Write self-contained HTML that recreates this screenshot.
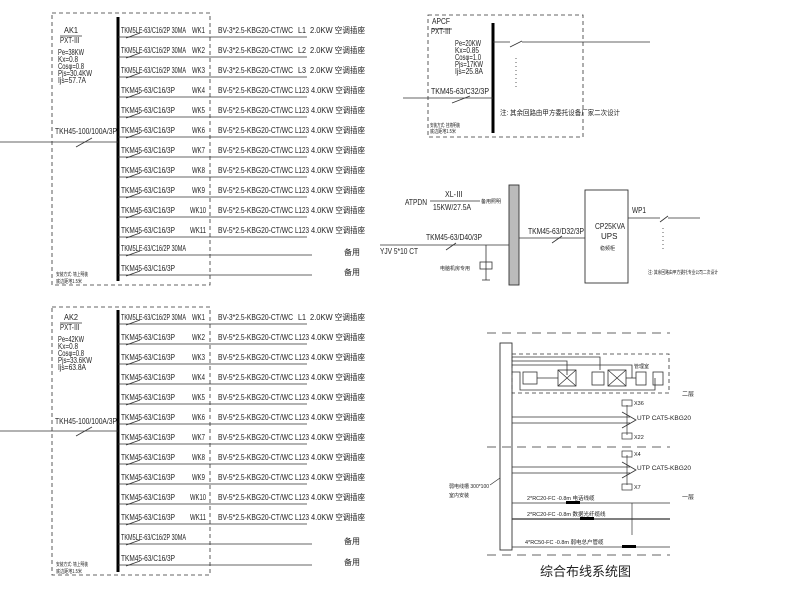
<!DOCTYPE html>
<html><head><meta charset="utf-8"><style>
html,body{margin:0;padding:0;background:#fff;width:800px;height:600px;overflow:hidden}
svg{display:block}
text{font-family:"Liberation Sans","Noto Sans CJK SC",sans-serif;fill:#222}
</style></head><body>
<svg width="800" height="600" viewBox="0 0 800 600" xmlns="http://www.w3.org/2000/svg">
<defs>
<g id="sw"><line x1="126" y1="5" x2="140" y2="0" stroke="#333" stroke-width="0.8"/></g>
</defs>
<g stroke="#333" fill="none">
<rect x="52" y="13" width="158" height="272" stroke-dasharray="4,3" stroke-width="0.8"/>
<line x1="118" y1="17" x2="118" y2="281" stroke="#000" stroke-width="3"/>
<line x1="0" y1="142" x2="118" y2="142" stroke-width="0.8"/>
<line x1="76" y1="147" x2="92" y2="138" stroke-width="0.8"/>
<line x1="60" y1="36" x2="82" y2="36" stroke-width="0.7"/>
<rect x="52" y="307" width="158" height="268" stroke-dasharray="4,3" stroke-width="0.8"/>
<line x1="118" y1="310" x2="118" y2="572" stroke="#000" stroke-width="3"/>
<line x1="0" y1="431" x2="118" y2="431" stroke-width="0.8"/>
<line x1="76" y1="436" x2="92" y2="427" stroke-width="0.8"/>
<line x1="60" y1="323" x2="82" y2="323" stroke-width="0.7"/>
<rect x="428" y="15" width="155" height="122" stroke-dasharray="4,3" stroke-width="0.8"/>
<line x1="493" y1="23" x2="493" y2="133" stroke="#000" stroke-width="3"/>
<line x1="493" y1="42" x2="510" y2="42" stroke-width="0.8"/>
<line x1="510" y1="47" x2="522" y2="41" stroke-width="0.8"/>
<line x1="522" y1="42" x2="650" y2="42" stroke-width="0.8"/>
<line x1="403" y1="98" x2="493" y2="98" stroke-width="0.8"/>
<line x1="452" y1="103" x2="470" y2="96" stroke-width="0.8"/>
<line x1="432" y1="29" x2="452" y2="29" stroke-width="0.7"/>
<line x1="516" y1="58" x2="516" y2="90" stroke-dasharray="1,3" stroke-width="0.8"/>
<line x1="430" y1="201" x2="480" y2="201" stroke-width="0.8"/>
<line x1="380" y1="245" x2="509" y2="245" stroke-width="0.8"/>
<line x1="446" y1="250" x2="456" y2="243" stroke-width="0.8"/>
<line x1="486" y1="245" x2="486" y2="280" stroke-width="0.8"/>
<rect x="480" y="262" width="12" height="7" stroke-width="0.8"/>
<line x1="482" y1="280" x2="490" y2="280" stroke-width="0.8"/>
<rect x="509" y="185" width="10" height="100" fill="#bbb" stroke-width="0.9"/>
<line x1="519" y1="238" x2="585" y2="238" stroke-width="0.8"/>
<line x1="552" y1="243" x2="562" y2="236" stroke-width="0.8"/>
<rect x="585" y="190" width="43" height="93" stroke-width="0.9"/>
<line x1="628" y1="218" x2="660" y2="218" stroke-width="0.8"/>
<line x1="660" y1="222" x2="668" y2="216" stroke-width="0.8"/>
<line x1="668" y1="218" x2="700" y2="218" stroke-width="0.8"/>
<line x1="663" y1="228" x2="663" y2="252" stroke-dasharray="1,3" stroke-width="0.8"/>
<g stroke-dasharray="9,6" stroke-width="0.8">
<line x1="487" y1="333" x2="670" y2="333"/><line x1="487" y1="447" x2="670" y2="447"/><line x1="487" y1="555" x2="670" y2="555"/>
</g>
<rect x="500" y="343" width="12" height="207" stroke-width="0.9"/>
<rect x="512" y="354" width="157" height="39" stroke-dasharray="4,3" stroke-width="0.8"/>
<path d="M512 357H600V370 M512 361H567V375 M512 365H632V378 M512 372H520V390H655V378" stroke-width="0.8"/>
<rect x="523" y="372" width="14" height="12" stroke-width="0.8"/>
<rect x="558" y="370" width="18" height="16" stroke-width="0.8"/>
<path d="M558 370L576 386M576 370L558 386" stroke-width="0.7"/>
<line x1="537" y1="378" x2="558" y2="378" stroke-width="0.8"/>
<rect x="592" y="372" width="12" height="13" stroke-width="0.8"/>
<rect x="608" y="370" width="18" height="16" stroke-width="0.8"/>
<path d="M608 370L626 386M626 370L608 386" stroke-width="0.7"/>
<line x1="626" y1="378" x2="636" y2="378" stroke-width="0.8"/>
<rect x="636" y="372" width="10" height="13" stroke-width="0.8"/>
<rect x="653" y="372" width="10" height="13" stroke-width="0.8"/>
<line x1="512" y1="417" x2="630" y2="417" stroke-width="0.8"/>
<line x1="512" y1="423" x2="630" y2="423" stroke-width="0.8"/>
<path d="M622 412L636 420L622 428" stroke-width="0.8"/>
<line x1="627" y1="405" x2="627" y2="435" stroke-width="0.7"/>
<rect x="622" y="400" width="10" height="6" stroke-width="0.7"/><rect x="622" y="433" width="10" height="6" stroke-width="0.7"/>
<line x1="512" y1="467" x2="630" y2="467" stroke-width="0.8"/>
<line x1="512" y1="473" x2="630" y2="473" stroke-width="0.8"/>
<path d="M622 462L636 470L622 478" stroke-width="0.8"/>
<line x1="627" y1="455" x2="627" y2="485" stroke-width="0.7"/>
<rect x="622" y="451" width="10" height="6" stroke-width="0.7"/><rect x="622" y="484" width="10" height="6" stroke-width="0.7"/>
<line x1="512" y1="503" x2="670" y2="503" stroke-width="0.8"/>
<line x1="512" y1="519" x2="670" y2="519" stroke-width="1.3"/>
<line x1="512" y1="547" x2="670" y2="547" stroke-width="0.8"/>
<line x1="632" y1="503" x2="632" y2="535" stroke-width="0.7"/>
<line x1="490" y1="485" x2="500" y2="478" stroke-width="0.7"/>
</g>
<g fill="#000"><rect x="566" y="501" width="14" height="3"/><rect x="580" y="517" width="14" height="3"/><rect x="622" y="545" width="14" height="3"/></g>

<g font-size="8" lengthAdjust="spacingAndGlyphs">
<text x="64" y="33" textLength="14" lengthAdjust="spacingAndGlyphs">AK1</text><text x="60" y="43" textLength="20" lengthAdjust="spacingAndGlyphs">PXT-Ⅲ</text>
<text x="58" y="55" textLength="26" lengthAdjust="spacingAndGlyphs">Pe=38KW</text><text x="58" y="62" textLength="20" lengthAdjust="spacingAndGlyphs">Kx=0.8</text><text x="58" y="69" textLength="26" lengthAdjust="spacingAndGlyphs">Cosφ=0.8</text><text x="58" y="76" textLength="34" lengthAdjust="spacingAndGlyphs">Pjs=30.4KW</text><text x="58" y="83" textLength="28" lengthAdjust="spacingAndGlyphs">Ijs=57.7A</text>
<text x="55" y="134" textLength="62" lengthAdjust="spacingAndGlyphs">TKH45-100/100A/3P</text>
<text x="56" y="276" font-size="5" textLength="32" lengthAdjust="spacingAndGlyphs">安装方式: 墙上明装</text><text x="56" y="283" font-size="5" textLength="26" lengthAdjust="spacingAndGlyphs">底边距地1.5米</text>

<text x="64" y="320" textLength="14" lengthAdjust="spacingAndGlyphs">AK2</text><text x="60" y="330" textLength="20" lengthAdjust="spacingAndGlyphs">PXT-Ⅲ</text>
<text x="58" y="342" textLength="26" lengthAdjust="spacingAndGlyphs">Pe=42KW</text><text x="58" y="349" textLength="20" lengthAdjust="spacingAndGlyphs">Kx=0.8</text><text x="58" y="356" textLength="26" lengthAdjust="spacingAndGlyphs">Cosφ=0.8</text><text x="58" y="363" textLength="34" lengthAdjust="spacingAndGlyphs">Pjs=33.6KW</text><text x="58" y="370" textLength="28" lengthAdjust="spacingAndGlyphs">Ijs=63.8A</text>
<text x="55" y="424" textLength="62" lengthAdjust="spacingAndGlyphs">TKH45-100/100A/3P</text>
<text x="56" y="566" font-size="5" textLength="32" lengthAdjust="spacingAndGlyphs">安装方式: 墙上明装</text><text x="56" y="573" font-size="5" textLength="26" lengthAdjust="spacingAndGlyphs">底边距地1.5米</text>

<text x="432" y="24" textLength="18" lengthAdjust="spacingAndGlyphs">APCF</text><text x="431" y="34" textLength="20" lengthAdjust="spacingAndGlyphs">PXT-Ⅲ</text>
<text x="455" y="46" textLength="26" lengthAdjust="spacingAndGlyphs">Pe=20KW</text><text x="455" y="53" textLength="24" lengthAdjust="spacingAndGlyphs">Kx=0.85</text><text x="455" y="60" textLength="26" lengthAdjust="spacingAndGlyphs">Cosφ=1.0</text><text x="455" y="67" textLength="28" lengthAdjust="spacingAndGlyphs">Pjs=17KW</text><text x="455" y="74" textLength="28" lengthAdjust="spacingAndGlyphs">Ijs=25.8A</text>
<text x="431" y="94" textLength="58" lengthAdjust="spacingAndGlyphs">TKM45-63/C32/3P</text>
<text x="500" y="115" font-size="7" textLength="120" lengthAdjust="spacingAndGlyphs">注: 其余回路由甲方委托设备厂家二次设计</text>
<text x="430" y="127" font-size="5" textLength="30" lengthAdjust="spacingAndGlyphs">安装方式: 挂墙明装</text><text x="430" y="133" font-size="5" textLength="26" lengthAdjust="spacingAndGlyphs">底边距地1.5米</text>

<text x="405" y="205" textLength="22" lengthAdjust="spacingAndGlyphs">ATPDN</text><text x="445" y="197" textLength="18" lengthAdjust="spacingAndGlyphs">XL-Ⅲ</text><text x="433" y="210" textLength="38" lengthAdjust="spacingAndGlyphs">15KW/27.5A</text>
<text x="481" y="203" font-size="5">备用照明</text>
<text x="426" y="240" textLength="56" lengthAdjust="spacingAndGlyphs">TKM45-63/D40/3P</text>
<text x="380" y="254" textLength="38" lengthAdjust="spacingAndGlyphs">YJV 5*10 CT</text>
<text x="440" y="270" font-size="5">电脑机房专用</text>
<text x="528" y="234" textLength="56" lengthAdjust="spacingAndGlyphs">TKM45-63/D32/3P</text>
<text x="595" y="229" textLength="30" lengthAdjust="spacingAndGlyphs">CP25KVA</text><text x="601" y="239">UPS</text><text x="600" y="250" font-size="5">稳频柜</text>
<text x="632" y="213" textLength="14" lengthAdjust="spacingAndGlyphs">WP1</text>
<text x="648" y="274" font-size="5" textLength="70" lengthAdjust="spacingAndGlyphs">注: 其余回路由甲方委托专业公司二次设计</text>

<text x="634" y="368" font-size="5">管理室</text>
<text x="682" y="396" font-size="6">二层</text><text x="682" y="499" font-size="6">一层</text>
<text x="634" y="405" font-size="5.5">X36</text><text x="637" y="420" font-size="6.5" textLength="54" lengthAdjust="spacingAndGlyphs">UTP CAT5-KBG20</text><text x="634" y="439" font-size="5.5">X22</text>
<text x="634" y="456" font-size="5.5">X4</text><text x="637" y="470" font-size="6.5" textLength="54" lengthAdjust="spacingAndGlyphs">UTP CAT5-KBG20</text><text x="634" y="489" font-size="5.5">X7</text>
<text x="527" y="500" font-size="5.5">2*RC20-FC -0.8m 电话线缆</text>
<text x="527" y="516" font-size="5.5">2*RC20-FC -0.8m 数据光纤缆线</text>
<text x="525" y="544" font-size="5.5">4*RC50-FC -0.8m 弱电总户管缆</text>
<text x="449" y="488" font-size="5">弱电线槽 300*100</text><text x="449" y="497" font-size="5">室内安装</text>
<text x="540" y="576" font-size="13" fill="#444">综合布线系统图</text>
</g>

<!-- AK1 rows -->
<g font-size="8" stroke-width="0.8">
<g transform="translate(0,33)"><line x1="118" y1="4" x2="307" y2="4" stroke="#333"/><use href="#sw"/><text x="121" y="0" textLength="65" lengthAdjust="spacingAndGlyphs">TKM5LE-63/C16/2P 30MA</text><text x="192" y="0" textLength="13" lengthAdjust="spacingAndGlyphs">WK1</text><text x="218" y="0" textLength="75" lengthAdjust="spacingAndGlyphs">BV-3*2.5-KBG20-CT/WC</text><text x="298" y="0" textLength="8" lengthAdjust="spacingAndGlyphs">L1</text><text x="310" y="0" textLength="55" lengthAdjust="spacingAndGlyphs">2.0KW 空调插座</text></g>
<g transform="translate(0,53)"><line x1="118" y1="4" x2="307" y2="4" stroke="#333"/><use href="#sw"/><text x="121" y="0" textLength="65" lengthAdjust="spacingAndGlyphs">TKM5LE-63/C16/2P 30MA</text><text x="192" y="0" textLength="13" lengthAdjust="spacingAndGlyphs">WK2</text><text x="218" y="0" textLength="75" lengthAdjust="spacingAndGlyphs">BV-3*2.5-KBG20-CT/WC</text><text x="298" y="0" textLength="8" lengthAdjust="spacingAndGlyphs">L2</text><text x="310" y="0" textLength="55" lengthAdjust="spacingAndGlyphs">2.0KW 空调插座</text></g>
<g transform="translate(0,73)"><line x1="118" y1="4" x2="307" y2="4" stroke="#333"/><use href="#sw"/><text x="121" y="0" textLength="65" lengthAdjust="spacingAndGlyphs">TKM5LE-63/C16/2P 30MA</text><text x="192" y="0" textLength="13" lengthAdjust="spacingAndGlyphs">WK3</text><text x="218" y="0" textLength="75" lengthAdjust="spacingAndGlyphs">BV-3*2.5-KBG20-CT/WC</text><text x="298" y="0" textLength="8" lengthAdjust="spacingAndGlyphs">L3</text><text x="310" y="0" textLength="55" lengthAdjust="spacingAndGlyphs">2.0KW 空调插座</text></g>
<g transform="translate(0,93)"><line x1="118" y1="4" x2="307" y2="4" stroke="#333"/><use href="#sw"/><text x="121" y="0" textLength="54" lengthAdjust="spacingAndGlyphs">TKM45-63/C16/3P</text><text x="192" y="0" textLength="13" lengthAdjust="spacingAndGlyphs">WK4</text><text x="218" y="0" textLength="75" lengthAdjust="spacingAndGlyphs">BV-5*2.5-KBG20-CT/WC</text><text x="295" y="0" textLength="14" lengthAdjust="spacingAndGlyphs">L123</text><text x="311" y="0" textLength="54" lengthAdjust="spacingAndGlyphs">4.0KW 空调插座</text></g>
<g transform="translate(0,113)"><line x1="118" y1="4" x2="307" y2="4" stroke="#333"/><use href="#sw"/><text x="121" y="0" textLength="54" lengthAdjust="spacingAndGlyphs">TKM45-63/C16/3P</text><text x="192" y="0" textLength="13" lengthAdjust="spacingAndGlyphs">WK5</text><text x="218" y="0" textLength="75" lengthAdjust="spacingAndGlyphs">BV-5*2.5-KBG20-CT/WC</text><text x="295" y="0" textLength="14" lengthAdjust="spacingAndGlyphs">L123</text><text x="311" y="0" textLength="54" lengthAdjust="spacingAndGlyphs">4.0KW 空调插座</text></g>
<g transform="translate(0,133)"><line x1="118" y1="4" x2="307" y2="4" stroke="#333"/><use href="#sw"/><text x="121" y="0" textLength="54" lengthAdjust="spacingAndGlyphs">TKM45-63/C16/3P</text><text x="192" y="0" textLength="13" lengthAdjust="spacingAndGlyphs">WK6</text><text x="218" y="0" textLength="75" lengthAdjust="spacingAndGlyphs">BV-5*2.5-KBG20-CT/WC</text><text x="295" y="0" textLength="14" lengthAdjust="spacingAndGlyphs">L123</text><text x="311" y="0" textLength="54" lengthAdjust="spacingAndGlyphs">4.0KW 空调插座</text></g>
<g transform="translate(0,153)"><line x1="118" y1="4" x2="307" y2="4" stroke="#333"/><use href="#sw"/><text x="121" y="0" textLength="54" lengthAdjust="spacingAndGlyphs">TKM45-63/C16/3P</text><text x="192" y="0" textLength="13" lengthAdjust="spacingAndGlyphs">WK7</text><text x="218" y="0" textLength="75" lengthAdjust="spacingAndGlyphs">BV-5*2.5-KBG20-CT/WC</text><text x="295" y="0" textLength="14" lengthAdjust="spacingAndGlyphs">L123</text><text x="311" y="0" textLength="54" lengthAdjust="spacingAndGlyphs">4.0KW 空调插座</text></g>
<g transform="translate(0,173)"><line x1="118" y1="4" x2="307" y2="4" stroke="#333"/><use href="#sw"/><text x="121" y="0" textLength="54" lengthAdjust="spacingAndGlyphs">TKM45-63/C16/3P</text><text x="192" y="0" textLength="13" lengthAdjust="spacingAndGlyphs">WK8</text><text x="218" y="0" textLength="75" lengthAdjust="spacingAndGlyphs">BV-5*2.5-KBG20-CT/WC</text><text x="295" y="0" textLength="14" lengthAdjust="spacingAndGlyphs">L123</text><text x="311" y="0" textLength="54" lengthAdjust="spacingAndGlyphs">4.0KW 空调插座</text></g>
<g transform="translate(0,193)"><line x1="118" y1="4" x2="307" y2="4" stroke="#333"/><use href="#sw"/><text x="121" y="0" textLength="54" lengthAdjust="spacingAndGlyphs">TKM45-63/C16/3P</text><text x="192" y="0" textLength="13" lengthAdjust="spacingAndGlyphs">WK9</text><text x="218" y="0" textLength="75" lengthAdjust="spacingAndGlyphs">BV-5*2.5-KBG20-CT/WC</text><text x="295" y="0" textLength="14" lengthAdjust="spacingAndGlyphs">L123</text><text x="311" y="0" textLength="54" lengthAdjust="spacingAndGlyphs">4.0KW 空调插座</text></g>
<g transform="translate(0,213)"><line x1="118" y1="4" x2="307" y2="4" stroke="#333"/><use href="#sw"/><text x="121" y="0" textLength="54" lengthAdjust="spacingAndGlyphs">TKM45-63/C16/3P</text><text x="190" y="0" textLength="16" lengthAdjust="spacingAndGlyphs">WK10</text><text x="218" y="0" textLength="75" lengthAdjust="spacingAndGlyphs">BV-5*2.5-KBG20-CT/WC</text><text x="295" y="0" textLength="14" lengthAdjust="spacingAndGlyphs">L123</text><text x="311" y="0" textLength="54" lengthAdjust="spacingAndGlyphs">4.0KW 空调插座</text></g>
<g transform="translate(0,233)"><line x1="118" y1="4" x2="307" y2="4" stroke="#333"/><use href="#sw"/><text x="121" y="0" textLength="54" lengthAdjust="spacingAndGlyphs">TKM45-63/C16/3P</text><text x="190" y="0" textLength="16" lengthAdjust="spacingAndGlyphs">WK11</text><text x="218" y="0" textLength="75" lengthAdjust="spacingAndGlyphs">BV-5*2.5-KBG20-CT/WC</text><text x="295" y="0" textLength="14" lengthAdjust="spacingAndGlyphs">L123</text><text x="311" y="0" textLength="54" lengthAdjust="spacingAndGlyphs">4.0KW 空调插座</text></g>
<g transform="translate(0,251)"><line x1="118" y1="4" x2="312" y2="4" stroke="#333"/><use href="#sw"/><text x="121" y="0" textLength="65" lengthAdjust="spacingAndGlyphs">TKM5LE-63/C16/2P 30MA</text><text x="344" y="4">备用</text></g>
<g transform="translate(0,271)"><line x1="118" y1="4" x2="312" y2="4" stroke="#333"/><use href="#sw"/><text x="121" y="0" textLength="54" lengthAdjust="spacingAndGlyphs">TKM45-63/C16/3P</text><text x="344" y="4">备用</text></g>
</g>

<!-- AK2 rows -->
<g font-size="8" stroke-width="0.8">
<g transform="translate(0,320)"><line x1="118" y1="4" x2="307" y2="4" stroke="#333"/><use href="#sw"/><text x="121" y="0" textLength="65" lengthAdjust="spacingAndGlyphs">TKM5LE-63/C16/2P 30MA</text><text x="192" y="0" textLength="13" lengthAdjust="spacingAndGlyphs">WK1</text><text x="218" y="0" textLength="75" lengthAdjust="spacingAndGlyphs">BV-3*2.5-KBG20-CT/WC</text><text x="298" y="0" textLength="8" lengthAdjust="spacingAndGlyphs">L1</text><text x="310" y="0" textLength="55" lengthAdjust="spacingAndGlyphs">2.0KW 空调插座</text></g>
<g transform="translate(0,340)"><line x1="118" y1="4" x2="307" y2="4" stroke="#333"/><use href="#sw"/><text x="121" y="0" textLength="54" lengthAdjust="spacingAndGlyphs">TKM45-63/C16/3P</text><text x="192" y="0" textLength="13" lengthAdjust="spacingAndGlyphs">WK2</text><text x="218" y="0" textLength="75" lengthAdjust="spacingAndGlyphs">BV-5*2.5-KBG20-CT/WC</text><text x="295" y="0" textLength="14" lengthAdjust="spacingAndGlyphs">L123</text><text x="311" y="0" textLength="54" lengthAdjust="spacingAndGlyphs">4.0KW 空调插座</text></g>
<g transform="translate(0,360)"><line x1="118" y1="4" x2="307" y2="4" stroke="#333"/><use href="#sw"/><text x="121" y="0" textLength="54" lengthAdjust="spacingAndGlyphs">TKM45-63/C16/3P</text><text x="192" y="0" textLength="13" lengthAdjust="spacingAndGlyphs">WK3</text><text x="218" y="0" textLength="75" lengthAdjust="spacingAndGlyphs">BV-5*2.5-KBG20-CT/WC</text><text x="295" y="0" textLength="14" lengthAdjust="spacingAndGlyphs">L123</text><text x="311" y="0" textLength="54" lengthAdjust="spacingAndGlyphs">4.0KW 空调插座</text></g>
<g transform="translate(0,380)"><line x1="118" y1="4" x2="307" y2="4" stroke="#333"/><use href="#sw"/><text x="121" y="0" textLength="54" lengthAdjust="spacingAndGlyphs">TKM45-63/C16/3P</text><text x="192" y="0" textLength="13" lengthAdjust="spacingAndGlyphs">WK4</text><text x="218" y="0" textLength="75" lengthAdjust="spacingAndGlyphs">BV-5*2.5-KBG20-CT/WC</text><text x="295" y="0" textLength="14" lengthAdjust="spacingAndGlyphs">L123</text><text x="311" y="0" textLength="54" lengthAdjust="spacingAndGlyphs">4.0KW 空调插座</text></g>
<g transform="translate(0,400)"><line x1="118" y1="4" x2="307" y2="4" stroke="#333"/><use href="#sw"/><text x="121" y="0" textLength="54" lengthAdjust="spacingAndGlyphs">TKM45-63/C16/3P</text><text x="192" y="0" textLength="13" lengthAdjust="spacingAndGlyphs">WK5</text><text x="218" y="0" textLength="75" lengthAdjust="spacingAndGlyphs">BV-5*2.5-KBG20-CT/WC</text><text x="295" y="0" textLength="14" lengthAdjust="spacingAndGlyphs">L123</text><text x="311" y="0" textLength="54" lengthAdjust="spacingAndGlyphs">4.0KW 空调插座</text></g>
<g transform="translate(0,420)"><line x1="118" y1="4" x2="307" y2="4" stroke="#333"/><use href="#sw"/><text x="121" y="0" textLength="54" lengthAdjust="spacingAndGlyphs">TKM45-63/C16/3P</text><text x="192" y="0" textLength="13" lengthAdjust="spacingAndGlyphs">WK6</text><text x="218" y="0" textLength="75" lengthAdjust="spacingAndGlyphs">BV-5*2.5-KBG20-CT/WC</text><text x="295" y="0" textLength="14" lengthAdjust="spacingAndGlyphs">L123</text><text x="311" y="0" textLength="54" lengthAdjust="spacingAndGlyphs">4.0KW 空调插座</text></g>
<g transform="translate(0,440)"><line x1="118" y1="4" x2="307" y2="4" stroke="#333"/><use href="#sw"/><text x="121" y="0" textLength="54" lengthAdjust="spacingAndGlyphs">TKM45-63/C16/3P</text><text x="192" y="0" textLength="13" lengthAdjust="spacingAndGlyphs">WK7</text><text x="218" y="0" textLength="75" lengthAdjust="spacingAndGlyphs">BV-5*2.5-KBG20-CT/WC</text><text x="295" y="0" textLength="14" lengthAdjust="spacingAndGlyphs">L123</text><text x="311" y="0" textLength="54" lengthAdjust="spacingAndGlyphs">4.0KW 空调插座</text></g>
<g transform="translate(0,460)"><line x1="118" y1="4" x2="307" y2="4" stroke="#333"/><use href="#sw"/><text x="121" y="0" textLength="54" lengthAdjust="spacingAndGlyphs">TKM45-63/C16/3P</text><text x="192" y="0" textLength="13" lengthAdjust="spacingAndGlyphs">WK8</text><text x="218" y="0" textLength="75" lengthAdjust="spacingAndGlyphs">BV-5*2.5-KBG20-CT/WC</text><text x="295" y="0" textLength="14" lengthAdjust="spacingAndGlyphs">L123</text><text x="311" y="0" textLength="54" lengthAdjust="spacingAndGlyphs">4.0KW 空调插座</text></g>
<g transform="translate(0,480)"><line x1="118" y1="4" x2="307" y2="4" stroke="#333"/><use href="#sw"/><text x="121" y="0" textLength="54" lengthAdjust="spacingAndGlyphs">TKM45-63/C16/3P</text><text x="192" y="0" textLength="13" lengthAdjust="spacingAndGlyphs">WK9</text><text x="218" y="0" textLength="75" lengthAdjust="spacingAndGlyphs">BV-5*2.5-KBG20-CT/WC</text><text x="295" y="0" textLength="14" lengthAdjust="spacingAndGlyphs">L123</text><text x="311" y="0" textLength="54" lengthAdjust="spacingAndGlyphs">4.0KW 空调插座</text></g>
<g transform="translate(0,500)"><line x1="118" y1="4" x2="307" y2="4" stroke="#333"/><use href="#sw"/><text x="121" y="0" textLength="54" lengthAdjust="spacingAndGlyphs">TKM45-63/C16/3P</text><text x="190" y="0" textLength="16" lengthAdjust="spacingAndGlyphs">WK10</text><text x="218" y="0" textLength="75" lengthAdjust="spacingAndGlyphs">BV-5*2.5-KBG20-CT/WC</text><text x="295" y="0" textLength="14" lengthAdjust="spacingAndGlyphs">L123</text><text x="311" y="0" textLength="54" lengthAdjust="spacingAndGlyphs">4.0KW 空调插座</text></g>
<g transform="translate(0,520)"><line x1="118" y1="4" x2="307" y2="4" stroke="#333"/><use href="#sw"/><text x="121" y="0" textLength="54" lengthAdjust="spacingAndGlyphs">TKM45-63/C16/3P</text><text x="190" y="0" textLength="16" lengthAdjust="spacingAndGlyphs">WK11</text><text x="218" y="0" textLength="75" lengthAdjust="spacingAndGlyphs">BV-5*2.5-KBG20-CT/WC</text><text x="295" y="0" textLength="14" lengthAdjust="spacingAndGlyphs">L123</text><text x="311" y="0" textLength="54" lengthAdjust="spacingAndGlyphs">4.0KW 空调插座</text></g>
<g transform="translate(0,540)"><line x1="118" y1="4" x2="312" y2="4" stroke="#333"/><use href="#sw"/><text x="121" y="0" textLength="65" lengthAdjust="spacingAndGlyphs">TKM5LE-63/C16/2P 30MA</text><text x="344" y="4">备用</text></g>
<g transform="translate(0,561)"><line x1="118" y1="4" x2="312" y2="4" stroke="#333"/><use href="#sw"/><text x="121" y="0" textLength="54" lengthAdjust="spacingAndGlyphs">TKM45-63/C16/3P</text><text x="344" y="4">备用</text></g>
</g>
</svg>
</body></html>
